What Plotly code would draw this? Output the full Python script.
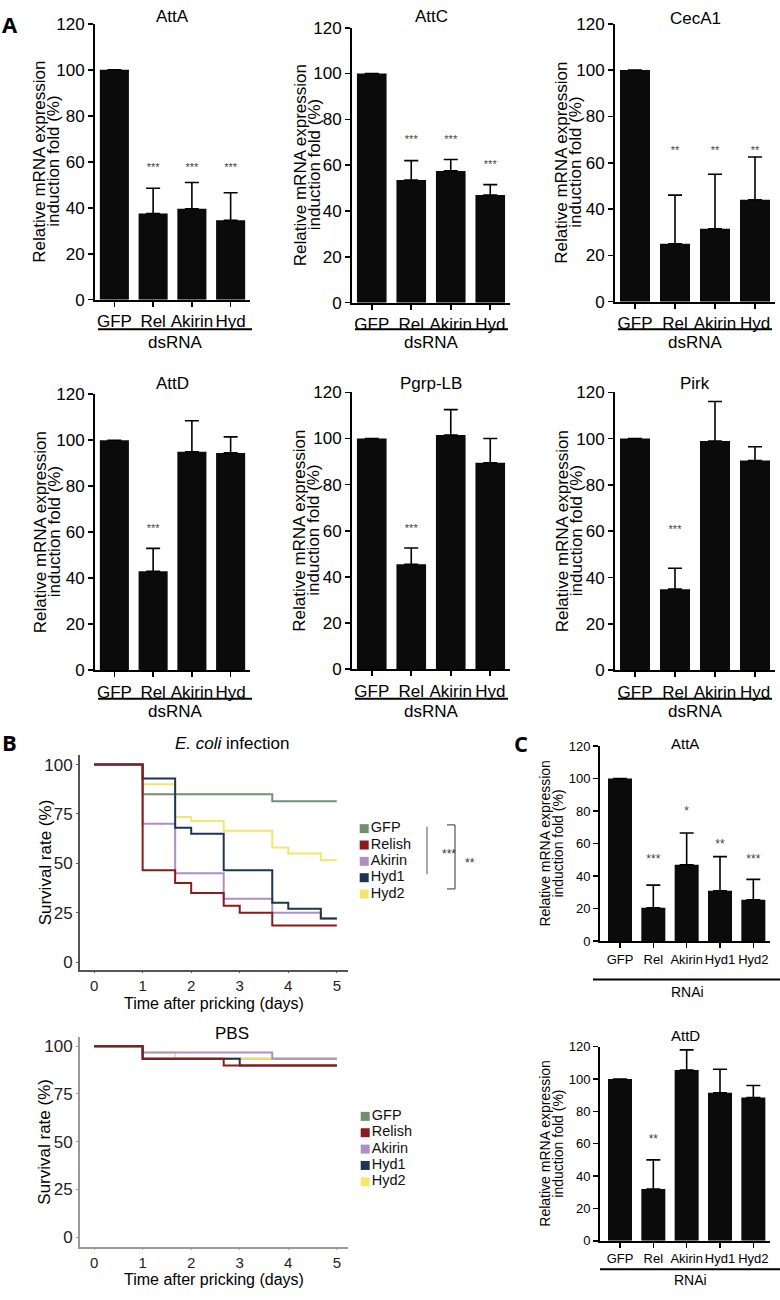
import plotly.graph_objects as go

W, H = 780, 1300
FONT = "Liberation Sans, Arial, sans-serif"

# ---------------- data ----------------
cats4 = ["GFP", "Rel", "Akirin", "Hyd"]
cats5 = ["GFP", "Rel", "Akirin", "Hyd1", "Hyd2"]

attA_val = [100, 37.5, 39.5, 34.5]
attA_err = [0, 11, 11.5, 12]
attA_sig = ["", "***", "***", "***"]
attA_sigy = [0, 57, 57, 57]

attC_val = [100, 53.5, 57.5, 47]
attC_err = [0, 8.5, 5, 4.5]
attC_sig = ["", "***", "***", "***"]
attC_sigy = [0, 71, 71, 60]

cecA1_val = [100, 25, 31.5, 44]
cecA1_err = [0, 21, 23.5, 18.5]
cecA1_sig = ["", "**", "**", "**"]
cecA1_sigy = [0, 65, 65, 65]

attD_val = [100, 43, 95, 94.5]
attD_err = [0, 10, 13.5, 7]
attD_sig = ["", "***", "", ""]
attD_sigy = [0, 61.5, 0, 0]

pgrp_val = [100, 45.5, 101.5, 89.5]
pgrp_err = [0, 7, 11, 10.5]
pgrp_sig = ["", "***", "", ""]
pgrp_sigy = [0, 60.5, 0, 0]

pirk_val = [100, 35, 99, 90.5]
pirk_err = [0, 9, 17, 6]
pirk_sig = ["", "***", "", ""]
pirk_sigy = [0, 60.5, 0, 0]

cAttA_val = [100, 20.5, 47, 31, 25.5]
cAttA_err = [0, 14, 19.5, 21, 12.5]
cAttA_sig = ["", "***", "*", "**", "***"]
cAttA_sigy = [0, 50, 79.5, 59, 50]

cAttD_val = [100, 32, 105.5, 91.5, 88.5]
cAttD_err = [0, 18, 12.5, 14.5, 7.5]
cAttD_sig = ["", "**", "", "", ""]
cAttD_sigy = [0, 62, 0, 0, 0]

groups = ["GFP", "Relish", "Akirin", "Hyd1", "Hyd2"]
group_colors = ["#748c74", "#8b1a1c", "#ad8fc6", "#1e3550", "#f3e66a"]

# E. coli survival (step curves)
ecoli_t = {
    "GFP": [0, 1, 3.67, 5],
    "Relish": [0, 1, 1.67, 2, 2.67, 3, 3.67, 5],
    "Akirin": [0, 1, 1.67, 2.67, 3.67, 4.67, 5],
    "Hyd1": [0, 1, 1.67, 2, 2.67, 3.67, 4, 4.67, 5],
    "Hyd2": [0, 1, 1.67, 2, 2.67, 3.67, 4, 4.67, 5],
}
ecoli_s = {
    "GFP": [100, 85, 81.5, 81.5],
    "Relish": [100, 46.5, 40, 35, 28.5, 25, 18.5, 18.5],
    "Akirin": [100, 70, 45, 32, 25, 22, 22],
    "Hyd1": [100, 93, 68, 65, 46.5, 30, 27, 22, 22],
    "Hyd2": [100, 90, 73.5, 71.5, 66.5, 58, 55, 51.5, 51.5],
}
pbs_t = {
    "GFP": [0, 1, 5],
    "Relish": [0, 1, 2.67, 5],
    "Akirin": [0, 1, 3.67, 5],
    "Hyd1": [0, 1, 3, 5],
    "Hyd2": [0, 1, 1.67, 5],
}
pbs_s = {
    "GFP": [100, 93.5, 93.5],
    "Relish": [100, 93.5, 90, 90],
    "Akirin": [100, 96.7, 93.5, 93.5],
    "Hyd1": [100, 93.5, 90, 90],
    "Hyd2": [100, 96.7, 93.5, 93.5],
}
surv_ticks = [0, 25, 50, 75, 100]
day_ticks = [0, 1, 2, 3, 4, 5]

# ---------------- helpers ----------------
def clamp(v):
    return max(0.0, min(1.0, v))

def px(x):
    return x / W

def py(y):
    return 1 - y / H

def xd(a, b):
    return [clamp(px(a)), clamp(px(b))]

def yd(top, bottom):
    return [clamp(py(bottom)), clamp(py(top))]

fig = go.Figure()
layout = {}
annotations = []
shapes = []

def ax_names(n):
    return ("x" if n == 1 else f"x{n}", "y" if n == 1 else f"y{n}",
            "xaxis" if n == 1 else f"xaxis{n}", "yaxis" if n == 1 else f"yaxis{n}")

def text(x, y, s, size, color="black", angle=0, xanchor="center", family=FONT):
    annotations.append(dict(x=px(x), y=py(y), xref="paper", yref="paper", text=s,
                            showarrow=False, textangle=angle, xanchor=xanchor, yanchor="middle",
                            font=dict(size=size, color=color, family=family)))

def hline(x0, x1, y, width=2, color="black"):
    shapes.append(dict(type="line", xref="paper", yref="paper", x0=clamp(px(x0)), x1=clamp(px(x1)),
                       y0=py(y), y1=py(y), line=dict(color=color, width=width)))

def vline(x, y0, y1, width=1, color="black"):
    shapes.append(dict(type="line", xref="paper", yref="paper", x0=px(x), x1=px(x),
                       y0=py(y0), y1=py(y1), line=dict(color=color, width=width)))

def bar_panel(n, cats, vals, errs, sigs, sigy, title, xl, xr, yt, yb, xrange,
              tfs, barw, title_y, title_fs, ytitle_fs, yt_off1, yt_off2, sigfs):
    xa, ya, xk, yk = ax_names(n)
    fig.add_trace(go.Bar(x=cats, y=vals, width=barw, marker=dict(color="#0b0b0b", line=dict(width=0)),
                         error_y=dict(type="data", symmetric=False, array=errs,
                                      arrayminus=[0] * len(errs), color="black",
                                      thickness=1.6, width=7),
                         xaxis=xa, yaxis=ya, hoverinfo="skip"))
    fig.add_trace(go.Scatter(x=cats, y=sigy, text=sigs, mode="text",
                             textfont=dict(size=sigfs, color="#444", family=FONT),
                             xaxis=xa, yaxis=ya, hoverinfo="skip"))
    layout[xk] = dict(domain=xd(xl, xr), anchor=ya, type="category", range=xrange,
                      showline=True, linecolor="black", linewidth=2, ticks="outside",
                      ticklen=5, tickwidth=1.6, tickcolor="black", showgrid=False, tickangle=0,
                      tickfont=dict(size=tfs, color="black", family=FONT), fixedrange=True)
    layout[yk] = dict(domain=yd(yt, yb), anchor=xa, range=[0, 120], dtick=20,
                      showline=True, linecolor="black", linewidth=2, ticks="outside",
                      ticklen=5, tickwidth=1.6, tickcolor="black", showgrid=False,
                      zeroline=False, tickfont=dict(size=tfs, color="black", family=FONT),
                      fixedrange=True)
    text((xl + xr) / 2, title_y, title, title_fs)
    cy = (yt + yb) / 2
    text(xl - yt_off1, cy, "Relative mRNA expression", ytitle_fs, angle=-90)
    text(xl - yt_off2, cy, "induction fold (%)", ytitle_fs, angle=-90)

# ---------------- panel A ----------------
A_range = [-0.5, 3.5]
bar_panel(1, cats4, attA_val, attA_err, attA_sig, attA_sigy, "AttA", 95, 250, 15, 295,
          A_range, 17, 0.75, 8, 17, 17, 55, 41, 11)
bar_panel(2, cats4, attC_val, attC_err, attC_sig, attC_sigy, "AttC", 352, 510, 19, 298,
          A_range, 17, 0.75, 8, 17, 17, 52, 38, 11)
bar_panel(3, cats4, cecA1_val, cecA1_err, cecA1_sig, cecA1_sigy, "CecA1", 615, 775, 15, 297,
          A_range, 17, 0.75, 10, 17, 17, 53, 39, 11)
bar_panel(4, cats4, attD_val, attD_err, attD_sig, attD_sigy, "AttD", 95, 250, 391, 671,
          A_range, 17, 0.75, 380, 17, 17, 55, 41, 11)
bar_panel(5, cats4, pgrp_val, pgrp_err, pgrp_sig, pgrp_sigy, "Pgrp-LB", 352, 510, 389, 670,
          A_range, 17, 0.75, 380, 17, 17, 52, 38, 11)
bar_panel(6, cats4, pirk_val, pirk_err, pirk_sig, pirk_sigy, "Pirk", 615, 775, 389, 671,
          A_range, 17, 0.75, 380, 17, 17, 53, 39, 11)

for (x0, x1) in [(98, 252), (355, 508), (618, 772)]:
    hline(x0, x1, 325)
    text((x0 + x1) / 2, 338, "dsRNA", 17)
    hline(x0, x1, 700)
    text((x0 + x1) / 2, 713, "dsRNA", 17)

# ---------------- panel C ----------------
C_range = [-0.6, 4.5]
bar_panel(9, cats5, cAttA_val, cAttA_err, cAttA_sig, cAttA_sigy, "AttA", 600, 770, 748, 946,
          C_range, 13, 0.72, 745, 15, 14, 55, 42, 12)
bar_panel(10, cats5, cAttD_val, cAttD_err, cAttD_sig, cAttD_sigy, "AttD", 600, 770, 1053, 1250,
          C_range, 13, 0.72, 1042, 15, 14, 55, 42, 12)
hline(593, 780, 985)
text(687, 998, "RNAi", 14)
hline(600, 780, 1279)
text(690, 1290, "RNAi", 14)

# ---------------- panel B ----------------
def surv_panel(n, tdict, sdict, order, xl, xr, yt, yb, yrange, axcol, title, title_y, xt_y):
    xa, ya, xk, yk = ax_names(n)
    for g in order:
        i = groups.index(g)
        fig.add_trace(go.Scatter(x=tdict[g], y=sdict[g], mode="lines", line_shape="hv",
                                 line=dict(color=group_colors[i], width=2),
                                 xaxis=xa, yaxis=ya, hoverinfo="skip"))
    layout[xk] = dict(domain=xd(xl, xr), anchor=ya, range=[-0.29, 5.23], tickvals=day_ticks,
                      showline=True, linecolor=axcol, linewidth=2, ticks="outside",
                      ticklen=1, tickwidth=1, tickcolor=axcol, showgrid=False, zeroline=False,
                      tickfont=dict(size=15, color="#222", family=FONT), fixedrange=True)
    layout[yk] = dict(domain=yd(yt, yb), anchor=xa, range=yrange, tickvals=surv_ticks,
                      showline=True, linecolor=axcol, linewidth=2, ticks="outside",
                      ticklen=2, tickwidth=1, tickcolor=axcol, showgrid=False, zeroline=False,
                      tickfont=dict(size=17, color="#222", family=FONT), fixedrange=True)
    text(232, title_y, title, 17)
    text(45, (yt + yb) / 2, "Survival rate (%)", 17, angle=-90)
    text(214, xt_y, "Time after pricking (days)", 16)

surv_panel(7, ecoli_t, ecoli_s, ["GFP", "Hyd2", "Akirin", "Hyd1", "Relish"],
           80, 348, 757, 975, [-3.9, 104.9], "#555", "<i>E. coli</i> infection", 745, 1009)
surv_panel(8, pbs_t, pbs_s, ["GFP", "Hyd2", "Akirin", "Hyd1", "Relish"],
           80, 348, 1043, 1256, [-5, 105], "#9a9a9a", "PBS", 1040, 1289)

def legend_panel(n, xl, xr, yt, yb):
    xa, ya, xk, yk = ax_names(n)
    fig.add_trace(go.Scatter(x=[0.1] * len(groups), y=list(range(len(groups) - 1, -1, -1)),
                             mode="markers+text", text=groups, textposition="middle right",
                             marker=dict(symbol="square", size=9, color=group_colors),
                             textfont=dict(size=14.5, color="#111", family=FONT),
                             xaxis=xa, yaxis=ya, hoverinfo="skip", cliponaxis=False))
    layout[xk] = dict(domain=xd(xl, xr), anchor=ya, range=[0, 1], visible=False, fixedrange=True)
    layout[yk] = dict(domain=yd(yt, yb), anchor=xa, range=[-0.5, 4.5], visible=False, fixedrange=True)

legend_panel(11, 358, 420, 823.5, 906.5)
legend_panel(12, 359, 421, 1115.5, 1198.5)

# significance brackets for E. coli legend
vline(427, 830, 878, width=1, color="#555")
text(449, 858, "***", 12, color="#333")
hline(447, 455, 828, width=1, color="#333")
hline(447, 455, 893, width=1, color="#333")
vline(455, 828, 893, width=1, color="#333")
text(470, 867, "**", 12, color="#333")

# panel letters
LETTER_FONT = "Open Sans, Liberation Sans, sans-serif"
for (lx, ly, lt) in [(0, 15, "A"), (0, 744, "B"), (512, 745, "C")]:
    annotations.append(dict(x=px(lx), y=py(ly), xref="paper", yref="paper", text=f"<b>{lt}</b>",
                            showarrow=False, xanchor="left", yanchor="middle",
                            font=dict(size=22, color="black", family=LETTER_FONT)))

fig.update_layout(width=W, height=H, autosize=False, margin=dict(l=0, r=0, t=0, b=0),
                  paper_bgcolor="white", plot_bgcolor="white", showlegend=False,
                  bargap=0.25, annotations=annotations, shapes=shapes,
                  font=dict(family=FONT, color="black"), **layout)

fig.write_html("out.html", config={"displayModeBar": False, "staticPlot": True},
               post_script="document.body.style.margin='0';")
